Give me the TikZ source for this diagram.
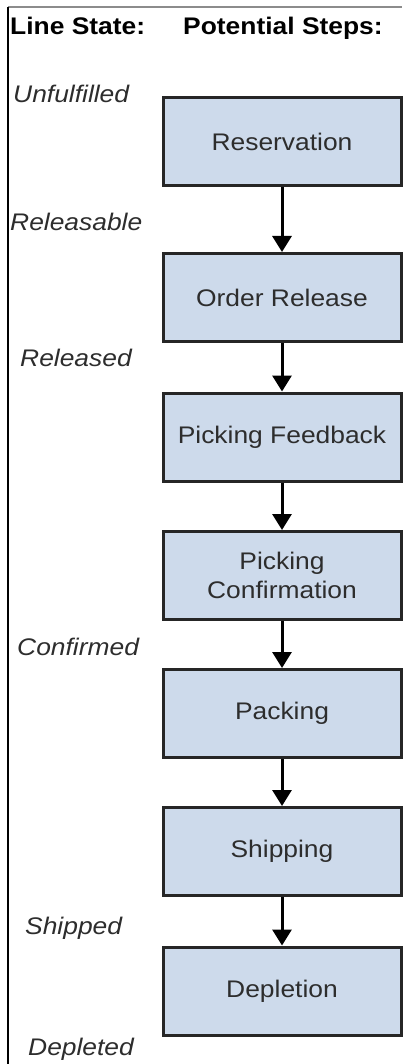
\documentclass[tikz,border=0pt]{standalone}
\usepackage{fontspec}
\setmainfont{Liberation Sans}[FakeStretch=1.1]
\usepackage{tikz}
\usetikzlibrary{arrows.meta,positioning}
\definecolor{stepblue}{RGB}{205,218,235}
\definecolor{labelgray}{RGB}{45,45,45}

\begin{document}
\begin{tikzpicture}[x=1pt, y=-1pt,
    stepbox/.style={rectangle, draw=black!85, line width=3pt, fill=stepblue, minimum width=238pt, minimum height=88pt, inner sep=0pt, align=center, text=labelgray, font=\fontsize{24}{29}\selectfont},
    state/.style={anchor=base west, inner sep=0pt, text=labelgray, font=\fontsize{24}{29}\selectfont\itshape},
    head/.style={anchor=base west, inner sep=0pt, font=\fontsize{24}{29}\selectfont\bfseries},
    arrow/.style={-{Triangle[width=19pt,length=16pt]}, line width=3pt}
]
    \useasboundingbox (0,0) rectangle (402,1064);
    % frame
    \draw[black!45, line width=1.5pt] (8,7) -- (402,7);
    \draw[line width=2pt] (8,7) -- (8,1064);

    % headers
    \node[head] (linestate) at (10,35) {Line State:};
    \node[head] (potential) at (183,35) {Potential Steps:};

    % steps
    \node[stepbox] (reservation) at (282,141.5) {Reservation};
    \node[stepbox] (release) at (282,297.5) {Order Release};
    \node[stepbox] (feedback) at (282,437) {Picking Feedback};
    \node[stepbox] (confirmation) at (282,575.5) {Picking\\Confirmation};
    \node[stepbox] (packing) at (282,713.5) {Packing};
    \node[stepbox] (shipping) at (282,851.5) {Shipping};
    \node[stepbox] (depletion) at (282,991) {Depletion};

    % line states
    \node[state] (unfulfilled) at (13,103) {Unfulfilled};
    \node[state] (releasable) at (10,231) {Releasable};
    \node[state] (released) at (20,366) {Released};
    \node[state] (confirmed) at (17,655) {Confirmed};
    \node[state] (shipped) at (25,934) {Shipped};
    \node[state] (depleted) at (28,1055) {Depleted};

    \draw[arrow] (reservation) -- (release);
    \draw[arrow] (release) -- (feedback);
    \draw[arrow] (feedback) -- (confirmation);
    \draw[arrow] (confirmation) -- (packing);
    \draw[arrow] (packing) -- (shipping);
    \draw[arrow] (shipping) -- (depletion);
\end{tikzpicture}
\end{document}
